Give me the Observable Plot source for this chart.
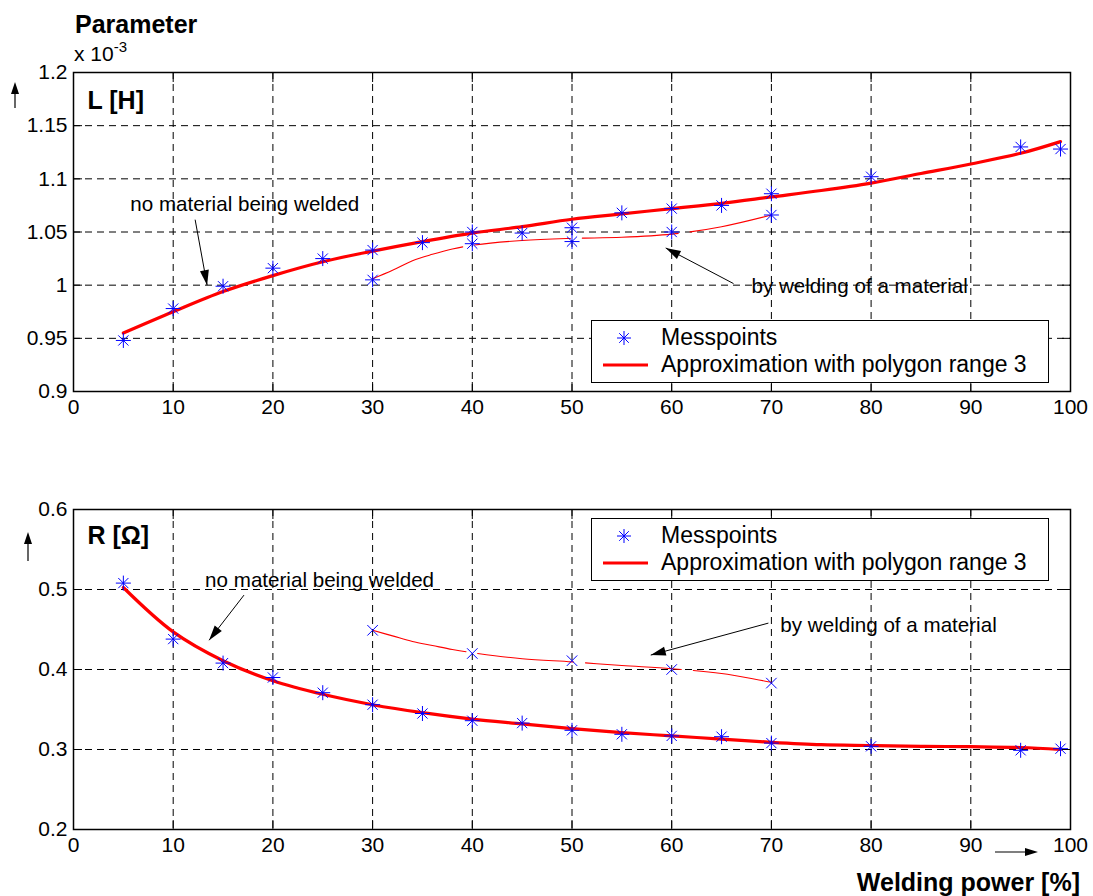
<!DOCTYPE html>
<html><head><meta charset="utf-8">
<script src="https://cdn.jsdelivr.net/npm/d3@7"></script>
<script src="https://cdn.jsdelivr.net/npm/@observablehq/plot@0.6"></script>
<style>
body{margin:0;background:#fff;font-family:"Liberation Sans",Arial,sans-serif;}
#wrap{position:relative;width:1093px;height:896px;overflow:hidden;background:#fff;}
#wrap > svg{position:absolute;left:0;}
.abs{position:absolute;white-space:nowrap;line-height:1;color:#000;}
.legend{position:absolute;border:1.5px solid #000;background:#fff;box-sizing:border-box;}
</style></head><body><div id="wrap"></div><script>
// ---------- data ----------
const xTicks = [0,10,20,30,40,50,60,70,80,90,100];
const LTicks = [0.9,0.95,1,1.05,1.1,1.15,1.2];
const RTicks = [0.2,0.3,0.4,0.5,0.6];

const powerMess = [5,10,15,20,25,30,35,40,45,50,55,60,65,70,80,95,99];
const LMess = [0.948,0.978,0.999,1.016,1.025,1.033,1.040,1.050,1.049,1.054,1.068,1.072,1.075,1.086,1.102,1.130,1.128];
const RMess = [0.508,0.438,0.408,0.390,0.371,0.356,0.345,0.336,0.333,0.324,0.319,0.317,0.316,0.308,0.304,0.299,0.301];

const powerWeld = [30,40,50,60,70];
const LWeld = [1.005,1.039,1.041,1.050,1.066];
const RWeld = [0.449,0.420,0.411,0.400,0.383];

const powerFit = [5,10,15,20,25,30,35,40,45,50,55,60,65,70,75,80,85,90,95,99];
const LFit = [0.955,0.975,0.994,1.009,1.022,1.032,1.041,1.049,1.055,1.062,1.067,1.072,1.077,1.083,1.089,1.096,1.105,1.114,1.124,1.135];
const RFit = [0.5025,0.447,0.411,0.386,0.369,0.356,0.346,0.338,0.332,0.326,0.321,0.317,0.313,0.309,0.306,0.305,0.304,0.3035,0.3025,0.300];

const powerWeldFit = [30,32,34,36,38,40,45,50,55,60,65,70];
const LWeldFit = [1.006,1.014,1.023,1.029,1.034,1.0375,1.042,1.044,1.045,1.048,1.055,1.066];
const RWeldFit = [0.449,0.442,0.435,0.430,0.425,0.421,0.4135,0.4095,0.405,0.401,0.395,0.384];

const noteText = ["no material being welded","by welding of a material"];
const LNotes = [{x:5.7,y:1.0755},{x:68.0,y:0.9984}];
const LArrows = [{x1:12.2,y1:1.0616,x2:13.4,y2:1.0},{x1:66.2,y1:1.0015,x2:59.4,y2:1.035}];
const RNotes = [{x:13.2,y:0.5116},{x:70.9,y:0.4554}];
const RArrows = [{x1:17.1,y1:0.493,x2:13.6,y2:0.4366},{x1:69.7,y1:0.458,x2:57.9,y2:0.418}];

// ---------- layout ----------
const FONT = '"Liberation Sans", Arial, sans-serif';
const W = 1093, ML = 73, MR = 23;
const P1 = {top:0, H:440, mt:72, mb:49, domain:[0.9,1.2], ticks:LTicks, label:"L [H]", labelDy:28};
const P2 = {top:440, H:456, mt:69, mb:67, domain:[0.2,0.6], ticks:RTicks, label:"R [\u03A9]", labelDy:26};

const star8 = {draw(ctx,size){const r=Math.sqrt(size/Math.PI), d=r*0.68;
  ctx.moveTo(-r,0);ctx.lineTo(r,0);ctx.moveTo(0,-r);ctx.lineTo(0,r);
  ctx.moveTo(-d,-d);ctx.lineTo(d,d);ctx.moveTo(-d,d);ctx.lineTo(d,-d);}};
const cross = {draw(ctx,size){const r=Math.sqrt(size/Math.PI)*0.7;
  ctx.moveTo(-r,-r);ctx.lineTo(r,r);ctx.moveTo(-r,r);ctx.lineTo(r,-r);}};
const headSym = {draw(ctx){ctx.moveTo(0,0);ctx.lineTo(-4.5,15);ctx.lineTo(4.5,15);ctx.closePath();}};

function zip(xs, ys){ return xs.map((x,i)=>({x, y:ys[i]})); }

function panel(P, mess, weld, fit, weldFit, notes, arrows, weldSymbol){
  const pw = W-ML-MR, ph = P.H-P.mt-P.mb;
  const arr = arrows.map(a=>{
    const dx = (a.x2-a.x1)/100*pw, dy = -(a.y2-a.y1)/(P.domain[1]-P.domain[0])*ph;
    return {...a, angle: Math.atan2(dx,-dy)*180/Math.PI};
  });
  const nt = notes.map((n,i)=>({...n, t: noteText[i]}));
  const fmt = d => String(+d.toFixed(2));
  const grid = {stroke:"#000", strokeOpacity:1, strokeWidth:1, strokeDasharray:"7,5"};
  return Plot.plot({
    width: W, height: P.H,
    marginLeft: ML, marginRight: MR, marginTop: P.mt, marginBottom: P.mb,
    style: {fontFamily: FONT, fontSize: "21px", color: "#000", background: "transparent", overflow: "visible"},
    x: {domain:[0,100], label:null},
    y: {domain:P.domain, label:null},
    marks: [
      Plot.gridX(xTicks, grid),
      Plot.gridY(P.ticks, grid),
      Plot.frame({stroke:"#000", strokeWidth:1.5}),
      Plot.line(fit, {x:"x", y:"y", stroke:"#ff0000", strokeWidth:3.2, curve:"catmull-rom"}),
      Plot.line(weldFit, {x:"x", y:"y", stroke:"#ff0000", strokeWidth:1.1, curve:"catmull-rom", strokeDasharray:"96,12"}),
      Plot.dot(mess, {x:"x", y:"y", symbol:star8, r:7.5, stroke:"#0000ff", fill:"none", strokeWidth:1}),
      Plot.dot(weld, {x:"x", y:"y", symbol:weldSymbol, r:7.5, stroke:"#0000ff", fill:"none", strokeWidth:1}),
      Plot.link(arr, {x1:"x1", y1:"y1", x2:"x2", y2:"y2", stroke:"#000", strokeWidth:1}),
      Plot.dot(arr, {x:"x2", y:"y2", rotate:"angle", symbol:headSym, r:5, fill:"#000", stroke:"none"}),
      Plot.text(nt, {x:"x", y:"y", text:"t", textAnchor:"start", lineAnchor:"middle", fontSize:20.6, fill:"#000"}),
      Plot.text([P.label], {frameAnchor:"top-left", dx:14, dy:P.labelDy, textAnchor:"start", lineAnchor:"middle", fontSize:25, fontWeight:"bold", fill:"#000"}),
      Plot.axisX(xTicks, {anchor:"bottom", tickSize:-9, tickPadding:17, fontSize:21, label:null, strokeWidth:1}),
      Plot.axisX(xTicks, {anchor:"top", tickSize:-9, tickFormat:()=>"", label:null}),
      Plot.axisY(P.ticks, {anchor:"left", tickSize:-9, tickPadding:15, tickFormat:fmt, fontSize:21, label:null}),
      Plot.axisY(P.ticks, {anchor:"right", tickSize:-9, tickFormat:()=>"", label:null})
    ]
  });
}

const wrap = document.getElementById("wrap");
const c1 = panel(P1, zip(powerMess,LMess), zip(powerWeld,LWeld), zip(powerFit,LFit), zip(powerWeldFit,LWeldFit), LNotes, LArrows, star8);
c1.style.top = P1.top+"px";
wrap.appendChild(c1);
const c2 = panel(P2, zip(powerMess,RMess), zip(powerWeld,RWeld), zip(powerFit,RFit), zip(powerWeldFit,RWeldFit), RNotes, RArrows, cross);
c2.style.top = P2.top+"px";
wrap.appendChild(c2);

// ---------- overlays: labels, legends, arrows ----------
function add(html){ wrap.insertAdjacentHTML("beforeend", html); }
add(`<div class="abs" style="left:75px;top:12px;font-size:25px;font-weight:bold;">Parameter</div>`);
add(`<div class="abs" style="left:74px;top:43px;font-size:21px;">x 10<span style="font-size:15px;position:relative;top:-9px;">-3</span></div>`);
add(`<div class="abs" style="right:13px;top:870px;font-size:25px;font-weight:bold;">Welding power [%]</div>`);
add(`<svg style="position:absolute;left:0;top:0;" width="1093" height="896">
  <line x1="15" y1="108" x2="15" y2="90" stroke="#000" stroke-width="1.2"/>
  <path d="M15,82 L11,94 L19,94 Z" fill="#000"/>
  <line x1="28" y1="561" x2="28" y2="541" stroke="#000" stroke-width="1.2"/>
  <path d="M28,532 L24,544 L32,544 Z" fill="#000"/>
  <line x1="995" y1="852" x2="1028" y2="852" stroke="#000" stroke-width="1.2"/>
  <path d="M1038,852 L1025,848 L1025,856 Z" fill="#000"/>
</svg>`);
function legend(top){
  add(`<div class="legend" style="left:591px;top:${top}px;width:458px;height:63px;">
    <svg style="position:absolute;left:0;top:0;" width="70" height="60">
      <g transform="translate(32,17)" stroke="#0000ff" stroke-width="1">
        <line x1="-7" y1="0" x2="7" y2="0"/><line x1="0" y1="-7" x2="0" y2="7"/>
        <line x1="-4.8" y1="-4.8" x2="4.8" y2="4.8"/><line x1="-4.8" y1="4.8" x2="4.8" y2="-4.8"/>
      </g>
      <line x1="11" y1="44" x2="56" y2="44" stroke="#ff0000" stroke-width="3.2"/>
    </svg>
    <div class="abs" style="left:69px;top:5px;font-size:23px;">Messpoints</div>
    <div class="abs" style="left:69px;top:32px;font-size:23px;">Approximation with polygon range 3</div>
  </div>`);
}
legend(320);
legend(518);
</script></body></html>
